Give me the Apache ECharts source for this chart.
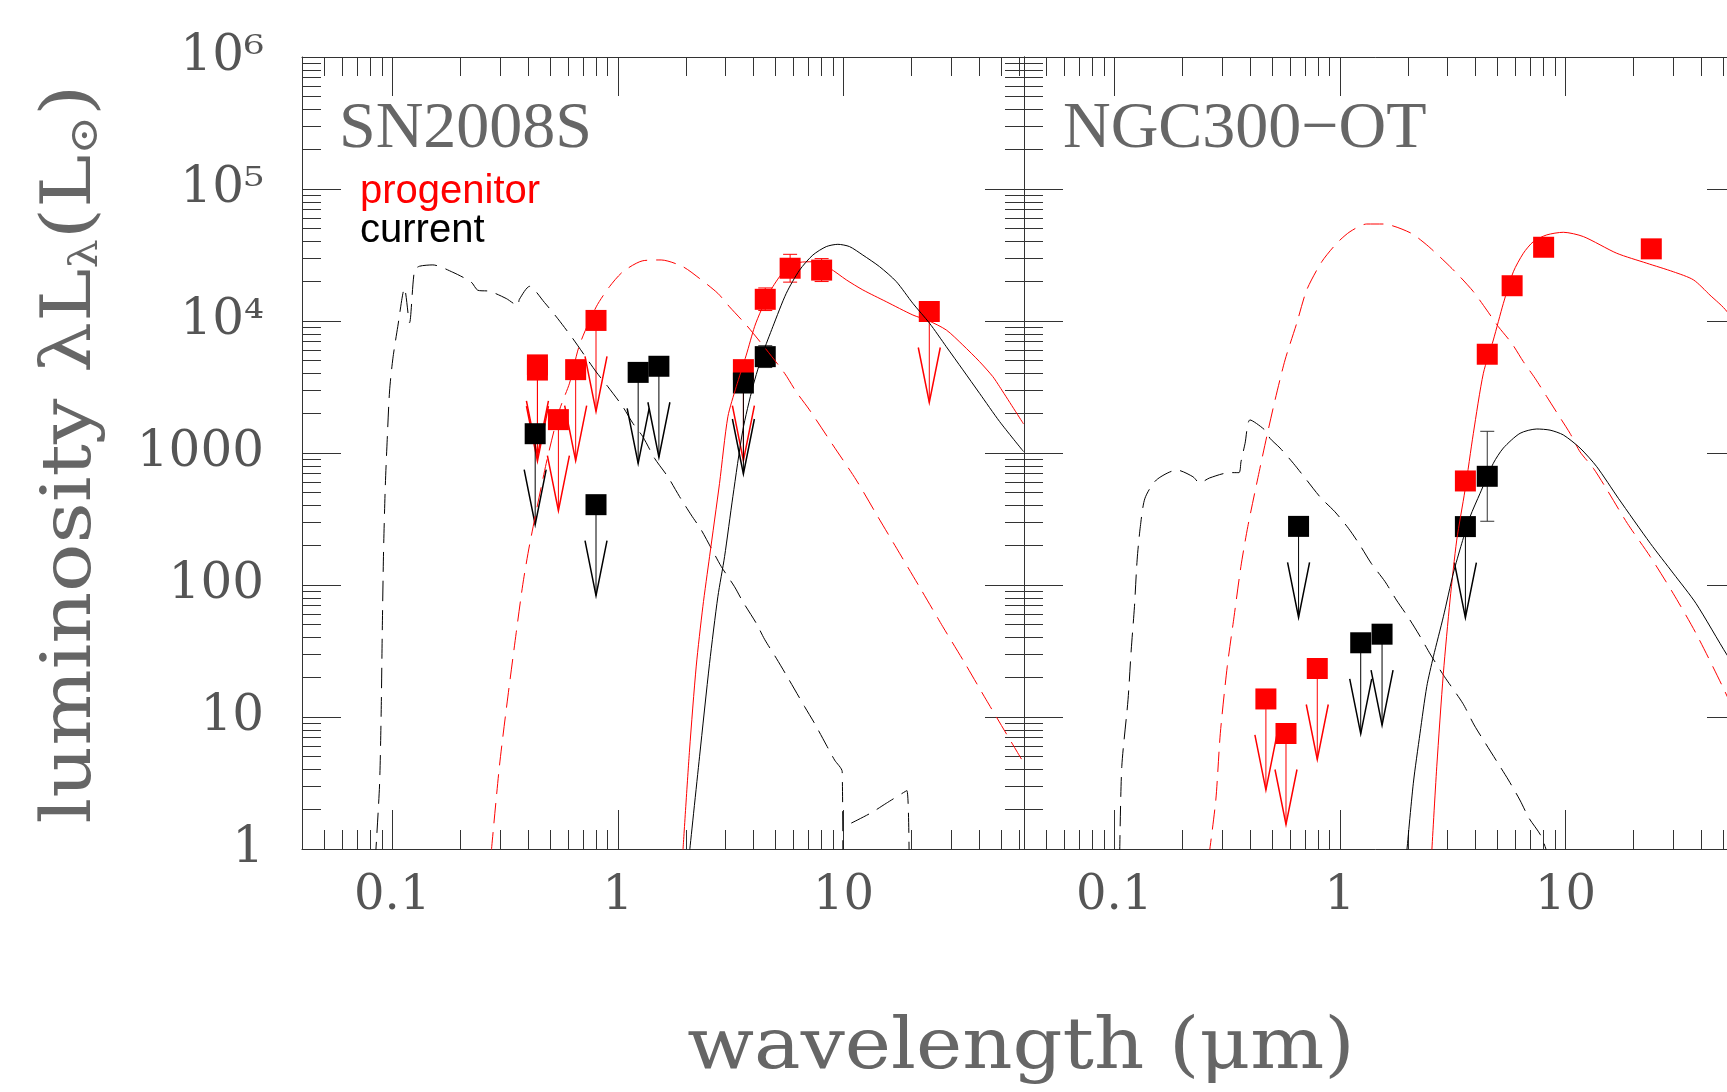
<!DOCTYPE html>
<html>
<head>
<meta charset="utf-8">
<title>SN2008S / NGC300-OT SED</title>
<script src="https://cdn.jsdelivr.net/npm/echarts@6/dist/echarts.min.js"></script>
<style>
  html, body { margin: 0; padding: 0; background: #fff; }
  #chart { width: 1727px; height: 1092px; }
</style>
</head>
<body>
<div id="chart"></div>
<script>
// tick labels
var xTickValues = [0.1, 1, 10];
var xTickLabels = ['0.1', '1', '10'];
var yTickLabels = ['1', '10', '100', '1000', '10⁴', '10⁵', '10⁶'];

// ---- SN2008S : models [wavelength um, L/Lsun] ----
var snHotA = [[0.084, 0.8], [0.0878, 3.0], [0.0893, 10.7], [0.0903, 43.6], [0.0915, 178], [0.0931, 547],
  [0.095, 1270], [0.0973, 2950], [0.1006, 5170], [0.1058, 9070], [0.1133, 17700], [0.1193, 9700],
  [0.1255, 24300], [0.1321, 26000], [0.1513, 26600], [0.1855, 23400], [0.224, 19700], [0.2394, 17100],
  [0.27, 16800], [0.32, 14800], [0.36, 13100], [0.366, 14600], [0.406, 18300], [0.473, 13800],
  [0.542, 10400], [0.632, 7340], [0.70, 5720], [0.802, 4110], [0.903, 3180], [1.052, 2240], [1.165, 1680],
  [1.29, 1330], [1.454, 912], [1.665, 661], [1.877, 467], [2.114, 339], [2.342, 261], [2.593, 190],
  [2.872, 138], [3.289, 97], [3.58, 74.7], [4.106, 51.3], [4.468, 38.8], [5.035, 27.9], [5.576, 20.8],
  [6.72, 12.0], [7.44, 8.96], [8.39, 6.14], [9.13, 4.72], [9.87, 3.85], [9.95, 0.3]];
var snHotB = [[10.82, 1.57], [13.27, 1.88], [15.47, 2.22], [19.1, 2.77], [19.6, 0.3]];
var snProgStar = [[0.2747, 0.95], [0.2988, 4.3], [0.3253, 14.2], [0.3544, 43.6], [0.379, 101], [0.406, 201],
  [0.4814, 836], [0.5513, 2120], [0.6105, 3380], [0.676, 6580], [0.8017, 12800], [0.918, 18200],
  [1.052, 23600], [1.29, 28600], [1.556, 29000], [1.941, 25800], [2.301, 21000], [2.774, 16200],
  [3.126, 12800], [3.707, 9330], [4.32, 6780], [5.48, 4020], [6.17, 2910], [7.07, 2120], [8.97, 1150],
  [11.39, 624], [14.2, 329], [17.72, 174], [22.12, 91.7], [27.56, 48.3], [34.4, 25.8], [42.9, 13.5],
  [62.2, 4.64]];
var snProgDust = [[1.941, 0.95], [2.078, 5.62], [2.225, 24.3], [2.38, 68.5], [2.549, 164], [2.822, 589],
  [3.072, 1880], [3.347, 3180], [3.707, 5520], [4.035, 9060], [4.32, 12100], [4.863, 18200],
  [5.667, 25800], [6.388, 27800], [7.315, 28100], [8.677, 25100], [10.29, 20500], [12.18, 17200],
  [15.47, 14000], [20.3, 11100], [23.66, 10100], [28.55, 8550], [33.8, 6580], [40.1, 4920],
  [45.9, 3790], [49.2, 3180], [62.8, 1660]];
var snCurDust = [[2.078, 0.95], [2.301, 5.0], [2.549, 25.5], [2.774, 81.5], [2.971, 164], [3.233, 467],
  [3.58, 1490], [3.965, 3180], [4.391, 5690], [4.863, 9060], [5.576, 16200], [6.388, 24300],
  [7.315, 31600], [8.386, 36600], [9.44, 38100], [10.64, 36600], [12.18, 31600], [14.45, 25800],
  [17.13, 19900], [20.3, 13600], [24.07, 9610], [28.55, 6390], [33.8, 4270], [40.1, 2830],
  [49.2, 1730], [62.8, 1025]];

// ---- SN2008S : photometry ----
var snProgLim = [[0.44, 4650], [0.44, 4250], [0.545, 1790], [0.65, 4280], [0.80, 10100], [3.6, 4280], [24, 11800]];
var snProgDet = [[4.5, 14600, 12000, 17800], [5.8, 25100, 19700, 32000], [8.0, 24300, 19900, 29700]];
var snCurLim = [[0.43, 1400], [0.80, 406], [1.23, 4080], [1.52, 4540], [3.6, 3390]];
var snCurDet = [[4.5, 5370, 4440, 6500]];

// ---- NGC300-OT : models ----
var ngcHot = [[0.1057, 0.9], [0.108, 4.2], [0.1151, 13.5], [0.1189, 32.2], [0.1229, 68.5], [0.1263, 155],
  [0.1305, 277], [0.1368, 454], [0.1536, 624], [0.1896, 743], [0.2232, 661], [0.239, 593], [0.2645, 647],
  [0.3243, 710], [0.357, 710], [0.3646, 859], [0.3799, 1180], [0.3997, 1780], [0.4659, 1490],
  [0.4903, 1290], [0.543, 1090], [0.6218, 836], [0.715, 619], [0.821, 460], [0.95, 359], [1.091, 269],
  [1.226, 201], [1.377, 146], [1.586, 106], [1.781, 76.9], [2.001, 57.5], [2.248, 41.8], [2.528, 29.5],
  [2.908, 20.2], [3.505, 12.7], [3.936, 8.7], [4.423, 6.3], [4.973, 4.58], [5.587, 3.33], [6.278, 2.35],
  [6.895, 1.71], [7.745, 1.28], [8.19, 1.0], [8.5, 0.8]];
var ngcProgStar = [[0.262, 0.85], [0.2819, 2.35], [0.2952, 7.52], [0.3167, 24.0], [0.3396, 57.5],
  [0.3642, 138], [0.3908, 277], [0.439, 722], [0.474, 1330], [0.516, 2520], [0.5715, 5070],
  [0.6438, 9610], [0.7131, 17200], [0.8311, 28100], [0.9685, 38800], [1.109, 47500], [1.315, 54300],
  [1.558, 54300], [2.046, 46700], [2.427, 37700], [2.925, 28100], [3.351, 22300], [3.905, 16700],
  [4.477, 12100], [5.04, 9060], [5.778, 6780], [6.505, 4920], [7.33, 3680], [8.26, 2670], [9.3, 1940],
  [10.47, 1410], [11.6, 1020], [13.29, 766], [14.98, 556], [18.8, 293], [23.75, 164], [29.99, 86.5],
  [37.86, 43.1], [50.1, 16.5], [63, 7]];
var ngcProgDust = [[2.554, 0.95], [2.688, 4.2], [2.875, 21.4], [3.078, 76.9], [3.296, 219], [3.588, 525],
  [3.905, 1410], [4.325, 4020], [4.788, 7180], [5.304, 13600], [5.873, 23600], [6.505, 32600],
  [7.2, 39900], [8.26, 44900], [9.78, 47000], [12.0, 43600], [16.87, 32600], [22.92, 27400],
  [30.07, 23600], [36.9, 20500], [43.7, 15700], [51.9, 11800], [62, 6600]];
var ngcCurDust = [[1.979, 0.95], [2.116, 3.15], [2.266, 7.53], [2.427, 17], [2.596, 28.6], [2.875, 57.5],
  [3.184, 123], [3.47, 207], [3.776, 329], [4.182, 495], [4.788, 836], [5.304, 1090], [6.29, 1410],
  [7.46, 1520], [8.54, 1490], [9.78, 1370], [11.6, 1090], [13.76, 787], [17.15, 454], [23.75, 207],
  [29.99, 123], [37.86, 72.6], [52.0, 29.5], [62, 19]];

// ---- NGC300-OT : photometry ----
var ngcProgLim = [[0.47, 13.7], [0.577, 7.5], [0.794, 23.3]];
var ngcProgDet = [[3.6, 614], [4.5, 5600], [5.8, 18500], [8.0, 36200], [24, 35200]];
var ngcCurLim = [[0.656, 278], [1.237, 36.5], [1.538, 42.4], [3.6, 277]];
var ngcCurDet = [[4.5, 666, 304, 1460]];

var RED = '#ff0000';
var BLACK = '#000000';
var AXIS = '#333333';
var XMIN = Math.pow(10, -1.4), XMAX = Math.pow(10, 1.8);

function xLabel(v) {
  for (var i = 0; i < xTickValues.length; i++) {
    if (Math.abs(Math.log10(v) - Math.log10(xTickValues[i])) < 1e-6) return xTickLabels[i];
  }
  return '';
}
function yLabel(v) {
  var k = Math.round(Math.log10(v));
  if (Math.abs(Math.log10(v) - k) < 1e-6 && yTickLabels[k] !== undefined) return yTickLabels[k];
  return '';
}

function tickStyle() {
  return {
    axisLine: { show: true, lineStyle: { color: AXIS, width: 1 } },
    axisTick: { show: true, inside: true, length: 39, lineStyle: { color: AXIS, width: 1 } },
    minorTick: { show: true, splitNumber: 9, length: 19, lineStyle: { color: AXIS, width: 1 } },
    splitLine: { show: false },
    minorSplitLine: { show: false }
  };
}

function xAxis(grid, pos, labels) {
  var a = tickStyle();
  a.type = 'log'; a.logBase = 10; a.gridIndex = grid; a.position = pos;
  a.min = XMIN; a.max = XMAX;
  a.axisLabel = labels ? {
    show: true, formatter: xLabel, margin: 24,
    fontFamily: 'DejaVu Serif', fontSize: 48, color: '#555'
  } : { show: false };
  return a;
}
function yAxis(grid, pos, labels) {
  var a = tickStyle();
  a.type = 'log'; a.logBase = 10; a.gridIndex = grid; a.position = pos;
  a.min = 1; a.max = 1e6;
  a.axisLabel = labels ? {
    show: true, formatter: yLabel, margin: 38,
    fontFamily: 'DejaVu Serif', fontSize: 50, color: '#555'
  } : { show: false };
  return a;
}

function curve(data, grid, color, dashed) {
  return {
    type: 'line', xAxisIndex: grid * 2, yAxisIndex: grid * 2, data: data,
    showSymbol: false, symbol: 'none', smooth: 0.25, clip: true, silent: true,
    lineStyle: { color: color, width: 1, type: dashed ? [20, 9] : 'solid' }
  };
}

// upper limits: stem + open V arrow head
function limits(data, grid, color) {
  return {
    type: 'custom', xAxisIndex: grid * 2, yAxisIndex: grid * 2, data: data, silent: true,
    renderItem: function (params, api) {
      var p = api.coord([api.value(0), api.value(1)]);
      var tip = p[1] + 91;
      return {
        type: 'group', children: [
          { type: 'line', shape: { x1: p[0], y1: p[1], x2: p[0], y2: tip }, style: { stroke: color, lineWidth: 1 } },
          { type: 'polyline', shape: { points: [[p[0] - 11, tip - 55], [p[0], tip], [p[0] + 11, tip - 55]] },
            style: { stroke: color, fill: null, lineWidth: 1.5 } }
        ]
      };
    }
  };
}

function errorBars(data, grid, color) {
  return {
    type: 'custom', xAxisIndex: grid * 2, yAxisIndex: grid * 2, data: data, silent: true,
    encode: { x: 0, y: [1, 2, 3] },
    renderItem: function (params, api) {
      var lo = api.coord([api.value(0), api.value(2)]);
      var hi = api.coord([api.value(0), api.value(3)]);
      var st = { stroke: color, lineWidth: 1 };
      return {
        type: 'group', children: [
          { type: 'line', shape: { x1: lo[0], y1: lo[1], x2: hi[0], y2: hi[1] }, style: st },
          { type: 'line', shape: { x1: lo[0] - 7, y1: lo[1], x2: lo[0] + 7, y2: lo[1] }, style: st },
          { type: 'line', shape: { x1: hi[0] - 7, y1: hi[1], x2: hi[0] + 7, y2: hi[1] }, style: st }
        ]
      };
    }
  };
}

function squares(data, grid, color) {
  return {
    type: 'scatter', xAxisIndex: grid * 2, yAxisIndex: grid * 2, silent: true,
    data: data.map(function (d) { return [d[0], d[1]]; }),
    symbol: 'rect', symbolSize: 21, itemStyle: { color: color, opacity: 1 }
  };
}

var chart = echarts.init(document.getElementById('chart'), null, { renderer: 'canvas' });
var option = {
  backgroundColor: '#ffffff',
  animation: false,
  grid: [
    { left: 302, top: 57, width: 722, height: 792, outerBoundsMode: 'none', containLabel: false },
    // the right panel runs past the edge of the page, as in the original figure
    { left: 1024, top: 57, width: 722, height: 792, outerBoundsMode: 'none', containLabel: false }
  ],
  xAxis: [xAxis(0, 'bottom', true), xAxis(0, 'top', false), xAxis(1, 'bottom', true), xAxis(1, 'top', false)],
  yAxis: [yAxis(0, 'left', true), yAxis(0, 'right', false), yAxis(1, 'left', false), yAxis(1, 'right', false)],
  graphic: [
    { type: 'text', x: 339, y: 130, style: { text: 'SN2008S', font: '66px "Liberation Serif"', fill: '#666', verticalAlign: 'middle' } },
    { type: 'text', x: 1063, y: 130, style: { text: 'NGC300−OT', font: '66px "Liberation Serif"', fill: '#666', verticalAlign: 'middle' } },
    { type: 'text', x: 360, y: 192, style: { text: 'progenitor', font: '40px "Liberation Sans"', fill: RED, verticalAlign: 'middle' } },
    { type: 'text', x: 360, y: 231, style: { text: 'current', font: '40px "Liberation Sans"', fill: BLACK, verticalAlign: 'middle' } },
    { type: 'text', x: 1021, y: 1050, scaleX: 1.1,
      style: { text: 'wavelength (μm)', font: '71px "DejaVu Serif"', fill: '#666', align: 'center', verticalAlign: 'middle' } },
    { type: 'text', x: 72, y: 454, rotation: Math.PI / 2, scaleX: 1.15,
      style: {
        text: 'luminosity λL{s|λ}(L{s|⊙})', font: '70px "DejaVu Serif"', fill: '#666',
        align: 'center', verticalAlign: 'middle',
        rich: { s: { fontFamily: 'DejaVu Serif', fontSize: 40, fill: '#666', verticalAlign: 'bottom' } }
      } }
  ],
  series: [
    // SN2008S
    curve(snHotA, 0, BLACK, true),
    curve(snHotB, 0, BLACK, true),
    curve(snProgStar, 0, RED, true),
    curve(snProgDust, 0, RED, false),
    curve(snCurDust, 0, BLACK, false),
    limits(snProgLim, 0, RED),
    errorBars(snProgDet, 0, RED),
    squares(snProgLim.concat(snProgDet), 0, RED),
    limits(snCurLim, 0, BLACK),
    errorBars(snCurDet, 0, '#333'),
    squares(snCurLim.concat(snCurDet), 0, BLACK),
    // NGC300-OT
    curve(ngcHot, 1, BLACK, true),
    curve(ngcProgStar, 1, RED, true),
    curve(ngcProgDust, 1, RED, false),
    curve(ngcCurDust, 1, BLACK, false),
    limits(ngcProgLim, 1, RED),
    squares(ngcProgLim.concat(ngcProgDet), 1, RED),
    limits(ngcCurLim, 1, BLACK),
    errorBars(ngcCurDet, 1, '#333'),
    squares(ngcCurLim.concat(ngcCurDet), 1, BLACK)
  ]
};
chart.setOption(option);
</script>
</body>
</html>
